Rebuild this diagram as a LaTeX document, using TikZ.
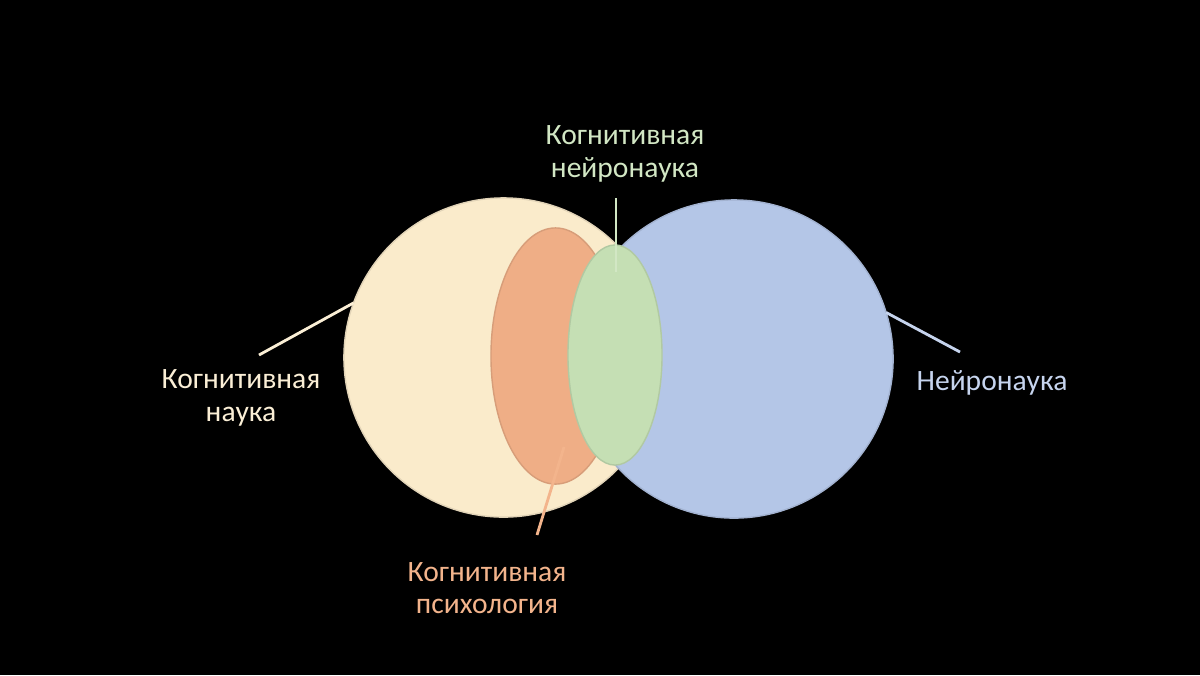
\documentclass[tikz,border=0pt]{standalone}
\usepackage{fontspec}
\setmainfont{Carlito}
\usetikzlibrary{shapes.geometric}
\definecolor{creamF}{HTML}{FAEBCB}
\definecolor{blueF}{HTML}{B4C6E7}
\definecolor{orangeF}{HTML}{EFAE86}
\definecolor{greenF}{HTML}{C5DFB4}
\definecolor{creamT}{HTML}{FBEFD6}
\definecolor{blueT}{HTML}{C6D4EE}
\definecolor{orangeT}{HTML}{F3B48C}
\definecolor{greenT}{HTML}{D2E7C4}
\tikzset{
  blob/.style={inner sep=0pt, outer sep=0pt, draw=#1!90!black, line width=0.4pt, fill=#1},
  lab/.style={align=center, font=\fontsize{8.4}{9.3}\selectfont, inner sep=0pt},
  lead/.style={line width=0.8pt, draw=#1}
}
\begin{document}
\begin{tikzpicture}[x=0.01cm, y=-0.01cm]
\fill[black] (0,0) rectangle (1200,675);
\useasboundingbox (0,0) rectangle (1200,675);
% shapes
\node[blob=creamF, circle, minimum size=3.19cm] (cs) at (503.5,357.5) {};
\node[blob=blueF, circle, minimum size=3.18cm] (ns) at (734,359) {};
\node[blob=orangeF, ellipse, minimum width=1.29cm, minimum height=2.56cm] (cp) at (555.5,356) {};
\node[blob=greenF, ellipse, minimum width=0.94cm, minimum height=2.20cm] (cn) at (615,355) {};
% labels
\node[lab, text=creamT] (lcs) at (241,398) {Когнитивная\\наука};
\node[lab, text=blueT] (lns) at (992,383) {Нейронаука};
\node[lab, text=greenT] (lcn) at (625,154) {Когнитивная\\нейронаука};
\node[lab, text=orangeT] (lcp) at (487,588) {Когнитивная\\психология};
% leader ends
\coordinate (ecs) at (259,355);
\coordinate (ens) at (960,352);
\coordinate (tcn) at (616,198);
\coordinate (bcn) at (616,272);
\coordinate (tcp) at (564,447);
\coordinate (bcp) at (537,535);
% leaders
\draw[lead=creamT] (cs.160) -- (ecs);
\draw[lead=blueT] (ns.17) -- (ens);
\draw[lead=greenT] (tcn) -- (bcn);
\draw[lead=orangeT] (tcp) -- (bcp);
\end{tikzpicture}
\end{document}
